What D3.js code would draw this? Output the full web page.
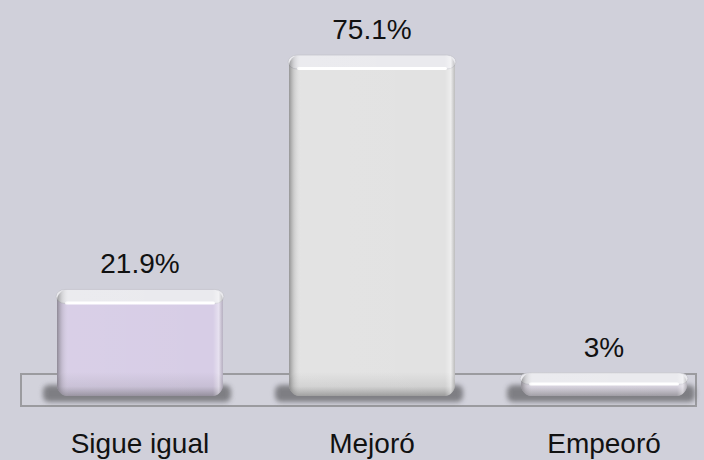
<!DOCTYPE html>
<html>
<head>
<meta charset="utf-8">
<script src="https://cdn.jsdelivr.net/npm/d3@7"></script>
<style>
  html, body { margin: 0; padding: 0; background: #d0d0da; }
  svg { display: block; }
</style>
</head>
<body>
<div id="chart"></div>
<script>
// data
const categories = ["Sigue igual", "Mejoró", "Empeoró"];
const values = [21.9, 75.1, 3];
const valueLabels = ["21.9%", "75.1%", "3%"];
const barColors = ["#d7cde6", "#e2e2e2", "#e6e1ee"];

const width = 704, height = 460;
const baseY = 396;      // bottom of the bars (3d depth below the zero line)

let svg = d3.select("#chart").append("svg")
  .attr("width", width)
  .attr("height", height);

svg.append("rect").attr("width", width).attr("height", height).attr("fill", "#d0d0da");

let x = d3.scaleBand().domain(categories).range([57, 687]).paddingInner(0.285).paddingOuter(0);
let y = d3.scaleLinear().domain([0, 75.1]).range([386, 55]);

let defs = svg.append("defs");

defs.append("filter").attr("id", "blur").attr("x", "-20%").attr("y", "-80%").attr("width", "140%").attr("height", "260%")
  .append("feGaussianBlur").attr("stdDeviation", 2.5);

let bottomShade = defs.append("linearGradient").attr("id", "bottom").attr("x1", 0).attr("x2", 0).attr("y1", 0).attr("y2", 1);
bottomShade.append("stop").attr("offset", "0%").attr("stop-color", "#555").attr("stop-opacity", 0);
bottomShade.append("stop").attr("offset", "60%").attr("stop-color", "#555").attr("stop-opacity", 0.12);
bottomShade.append("stop").attr("offset", "100%").attr("stop-color", "#444").attr("stop-opacity", 0.45);

let side = defs.append("linearGradient").attr("id", "side").attr("x1", 0).attr("x2", 1).attr("y1", 0).attr("y2", 0);
side.append("stop").attr("offset", "0%").attr("stop-color", "#444").attr("stop-opacity", 0.5);
side.append("stop").attr("offset", "3%").attr("stop-color", "#777").attr("stop-opacity", 0.2);
side.append("stop").attr("offset", "7%").attr("stop-color", "#fff").attr("stop-opacity", 0.05);
side.append("stop").attr("offset", "94%").attr("stop-color", "#fff").attr("stop-opacity", 0);
side.append("stop").attr("offset", "97.5%").attr("stop-color", "#fff").attr("stop-opacity", 0.4);
side.append("stop").attr("offset", "100%").attr("stop-color", "#777").attr("stop-opacity", 0.35);

// floor
svg.append("rect")
  .attr("x", 21).attr("y", 374)
  .attr("width", 675).attr("height", 32)
  .attr("fill", "#d2d2db")
  .attr("stroke", "#9b9b9f")
  .attr("stroke-width", 2);

let bars = svg.selectAll("g.bar").data(values).join("g").attr("class", "bar");

// shadows on the floor
bars.append("rect")
  .attr("x", (d, i) => x(categories[i]) - 14)
  .attr("y", baseY - 11)
  .attr("width", x.bandwidth() + 22)
  .attr("height", 17)
  .attr("rx", 6)
  .attr("fill", "#6a6a6e")
  .attr("opacity", 0.8)
  .attr("filter", "url(#blur)");

// bar body
bars.append("rect")
  .attr("x", (d, i) => x(categories[i]))
  .attr("y", d => y(d))
  .attr("width", x.bandwidth())
  .attr("height", d => baseY - y(d))
  .attr("rx", 11)
  .attr("fill", (d, i) => barColors[i]);

// darker band at the bottom
bars.append("rect")
  .attr("x", (d, i) => x(categories[i]))
  .attr("y", d => Math.max(y(d), baseY - 24))
  .attr("width", x.bandwidth())
  .attr("height", d => Math.min(24, baseY - y(d)))
  .attr("rx", 11)
  .attr("fill", "url(#bottom)");

// top cap
bars.append("rect")
  .attr("x", (d, i) => x(categories[i]) - 1)
  .attr("y", d => y(d))
  .attr("width", x.bandwidth() + 2)
  .attr("height", d => Math.min(14, (baseY - y(d)) * 0.5))
  .attr("rx", 9)
  .attr("fill", "#eaeaee")
  .attr("stroke", "#c4c4cc")
  .attr("stroke-width", 0.8);

// highlight line under the cap
bars.append("rect")
  .attr("x", (d, i) => x(categories[i]) + 8)
  .attr("y", d => y(d) + Math.min(12, (baseY - y(d)) * 0.42))
  .attr("width", x.bandwidth() - 16)
  .attr("height", 3)
  .attr("rx", 1.5)
  .attr("fill", "#ffffff");

// left and right edge shading
bars.append("rect")
  .attr("x", (d, i) => x(categories[i]))
  .attr("y", d => y(d))
  .attr("width", x.bandwidth())
  .attr("height", d => baseY - y(d))
  .attr("rx", 11)
  .attr("fill", "url(#side)");

// value labels
bars.append("text")
  .attr("x", (d, i) => x(categories[i]) + x.bandwidth() / 2)
  .attr("y", d => y(d) - 16)
  .attr("text-anchor", "middle")
  .attr("font-family", "Liberation Sans, Arial, sans-serif")
  .attr("font-size", 28)
  .attr("fill", "#111")
  .text((d, i) => valueLabels[i]);

// category labels
svg.selectAll("text.cat").data(categories).join("text")
  .attr("class", "cat")
  .attr("x", d => x(d) + x.bandwidth() / 2)
  .attr("y", 453)
  .attr("text-anchor", "middle")
  .attr("font-family", "Liberation Sans, Arial, sans-serif")
  .attr("font-size", 28)
  .attr("fill", "#111")
  .text(d => d);
</script>
</body>
</html>
